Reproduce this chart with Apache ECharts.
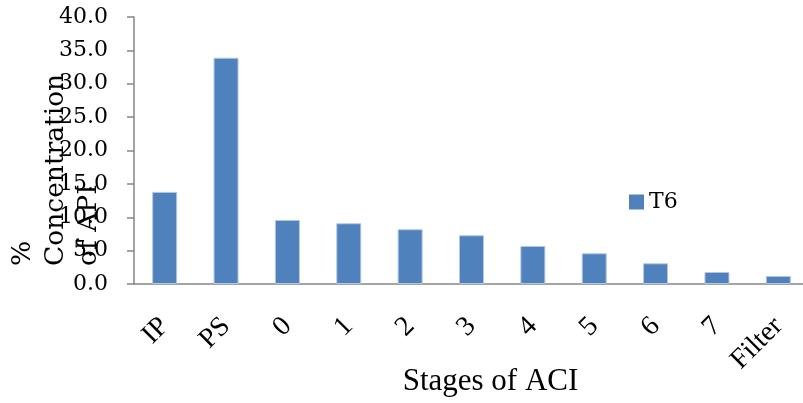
<!DOCTYPE html>
<html>
<head>
    <meta charset="utf-8">
    <title>Stages of ACI</title>
    <script src="https://cdn.jsdelivr.net/npm/echarts@6/dist/echarts.min.js"></script>
</head>
<style>
    html, body { margin: 0; padding: 0; background: #fff; }
    #chartmain { width: 803px; height: 403px; }
</style>
<body>
    <div id="chartmain"></div>
</body>
<script type="text/javascript">
    // 数据
    var stages = ['IP', 'PS', '0', '1', '2', '3', '4', '5', '6', '7', 'Filter'];
    var t6 = [13.8, 33.9, 9.6, 9.1, 8.2, 7.3, 5.7, 4.6, 3.1, 1.8, 1.2];
    var seriesName = 'T6';

    var myChart = echarts.init(document.getElementById('chartmain'));
    myChart.setOption({
        animation: false,
        grid: { left: 134, right: -6, top: 17, bottom: 119, containLabel: false, outerBoundsMode: 'none' },
        legend: {
            data: [seriesName],
            left: 624, top: 186,
            itemWidth: 15, itemHeight: 15, itemGap: 8,
            icon: 'rect',
            itemStyle: { borderWidth: 0 },
            textStyle: { fontFamily: 'DejaVu Serif', fontSize: 22, color: '#000' }
        },
        xAxis: {
            type: 'category',
            data: stages,
            axisLine: { lineStyle: { color: '#868686', width: 1.5 } },
            axisTick: { alignWithLabel: false, length: 7, lineStyle: { color: '#868686', width: 1.5 } },
            axisLabel: {
                rotate: 45, margin: 38, interval: 0,
                fontFamily: 'Liberation Serif', fontSize: 28, color: '#000'
            },
            name: 'Stages of ACI',
            nameLocation: 'middle',
            nameGap: 82,
            nameMoveOverlap: false,
            nameTextStyle: { fontFamily: 'Liberation Serif', fontSize: 31, color: '#000', padding: [0, 0, 0, 38] }
        },
        yAxis: {
            type: 'value',
            min: 0, max: 40, interval: 5,
            splitLine: { show: false },
            axisLine: { show: true, lineStyle: { color: '#868686', width: 1.5 } },
            axisTick: { show: true, length: 7, lineStyle: { color: '#868686', width: 1.5 } },
            axisLabel: {
                margin: 26,
                fontFamily: 'DejaVu Serif', fontSize: 22, color: '#000',
                formatter: function (v) { return v.toFixed(1); }
            }
        },
        graphic: [{
            type: 'text',
            x: 7, y: 266,
            rotation: Math.PI / 2,
            style: {
                text: '%\nConcentration\nof API',
                font: '26.5px "DejaVu Serif"',
                fill: '#000',
                align: 'left',
                verticalAlign: 'top',
                lineHeight: 33
            }
        }],
        series: [{
            name: seriesName,
            type: 'bar',
            data: t6,
            barWidth: 25,
            itemStyle: { color: '#4F81BD', borderColor: '#b3c8e3', borderWidth: 1 }
        }]
    });
</script>
</html>
